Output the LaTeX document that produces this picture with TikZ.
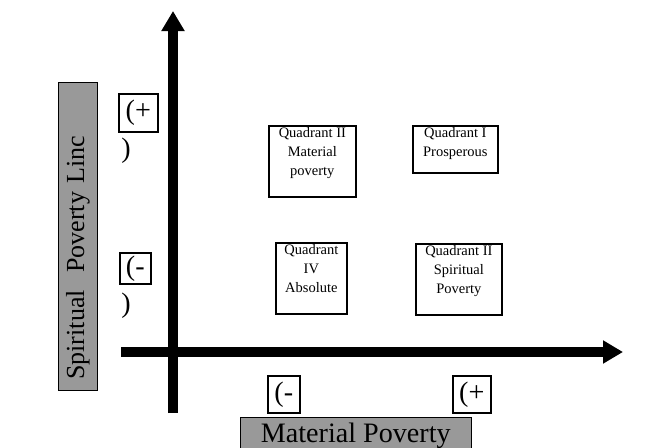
\documentclass[tikz,border=0pt]{standalone}
\usepackage{fontspec}
\setmainfont{Liberation Serif}
\usetikzlibrary{arrows.meta,positioning}
\definecolor{labelgray}{RGB}{153,153,153}
\tikzset{
    axis/.style={line width=0.24cm},
    quadbox/.style={
        draw, line width=1.2pt, anchor=north west, inner sep=0pt
    },
    quadtext/.style={
        anchor=north, inner sep=0pt, yshift=-1.5pt, align=center,
        font=\fontsize{10.3}{13.5}\selectfont
    },
    signbox/.style={
        draw, line width=1.2pt, anchor=north west, inner sep=0pt,
        font=\fontsize{20}{20}\selectfont
    },
    paren/.style={inner sep=0pt, font=\fontsize{20}{20}\selectfont},
    axislabel/.style={
        draw, fill=labelgray, inner sep=0pt,
        font=\fontsize{20}{22}\selectfont
    }
}

\begin{document}
\begin{tikzpicture}[x=0.025cm, y=-0.025cm, >={Triangle[width=0.55cm,length=0.5cm]}]
\useasboundingbox (0,0) rectangle (672,448);

% Axes
\coordinate (yfoot) at (173,413);
\coordinate (ytip) at (173,11);
\coordinate (xfoot) at (121,352);
\coordinate (xtip) at (623,352);
\draw[axis, ->] (yfoot) -- (ytip);
\draw[axis, ->] (xfoot) -- (xtip);

% Axis titles
\node[axislabel, rotate=90, anchor=north west,
      minimum width=7.7cm, minimum height=0.975cm,
      inner xsep=0.275cm, text width=7.15cm, align=left,
      font=\fontsize{18.5}{20}\selectfont] (splabel) at (58,391)
    {Spiritual~ Poverty Linc};
\node[axislabel, anchor=north west,
      minimum width=5.775cm, minimum height=0.9cm] (mplabel) at (240,417)
    {Material Poverty};

% Signs on the vertical axis
\node[signbox, minimum width=0.975cm, minimum height=0.95cm] (splus) at (118,93) {(+};
\node[paren] (spluscl) at (126,151) {)};
\node[signbox, minimum width=0.775cm, minimum height=0.775cm] (sminus) at (119,252) {(-};
\node[paren] (sminuscl) at (126,306) {)};

% Signs on the horizontal axis
\node[signbox, minimum width=0.8cm, minimum height=0.925cm] (mminus) at (267,375) {(-};
\node[signbox, minimum width=0.95cm, minimum height=0.925cm] (mplus) at (452,375) {(+};

% Quadrants
\node[quadbox, minimum width=2.175cm, minimum height=1.775cm] (q2m) at (268,125) {};
\node[quadtext] (q2mtext) at (q2m.north) {Quadrant II\\Material\\poverty};

\node[quadbox, minimum width=2.125cm, minimum height=1.175cm] (q1) at (412,125) {};
\node[quadtext] (q1text) at (q1.north) {Quadrant I\\Prosperous};

\node[quadbox, minimum width=1.775cm, minimum height=1.775cm] (q4) at (275,242) {};
\node[quadtext] (q4text) at (q4.north) {Quadrant\\IV\\Absolute};

\node[quadbox, minimum width=2.15cm, minimum height=1.775cm] (q2s) at (415,243) {};
\node[quadtext] (q2stext) at (q2s.north) {Quadrant II\\Spiritual\\Poverty};

\end{tikzpicture}
\end{document}
